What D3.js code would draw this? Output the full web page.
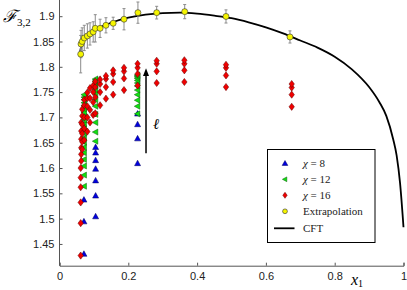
<!DOCTYPE html>
<html>
<head>
<meta charset="utf-8">
<script src="https://cdn.jsdelivr.net/npm/d3@7"></script>
<style>
  body { margin: 0; background: #fff; }
  svg text { font-family: "Liberation Sans", Arial, sans-serif; }
  .serif { font-family: "Liberation Serif", "DejaVu Serif", serif; }
</style>
</head>
<body>
<div id="chart"></div>
<script>
// Data
const xTicks = [0, 0.2, 0.4, 0.6, 0.8, 1];
const yTicks = [1.45, 1.5, 1.55, 1.6, 1.65, 1.7, 1.75, 1.8, 1.85, 1.9];

// chi = 8 (blue)
const chi8X = [0.071, 0.071, 0.071,
  0.105, 0.105, 0.105, 0.105, 0.105, 0.105, 0.105,
  0.227, 0.227, 0.227, 0.227];
const chi8Y = [1.430, 1.494, 1.537,
  1.504, 1.545, 1.575, 1.598, 1.615, 1.630, 1.641,
  1.609, 1.658, 1.686, 1.707];

// chi = 12 (green)
const chi12Cols = [0.072, 0.105, 0.227];
const chi12Vals = [
  [1.564, 1.586, 1.604, 1.617, 1.630, 1.641, 1.651, 1.660, 1.669, 1.678, 1.687, 1.695, 1.703, 1.710, 1.717, 1.723, 1.729, 1.735, 1.740, 1.745],
  [1.653, 1.671, 1.690, 1.706, 1.722, 1.735, 1.747, 1.755, 1.762, 1.767, 1.771, 1.774, 1.776],
  [1.707, 1.722, 1.734, 1.745, 1.754, 1.762, 1.768, 1.773, 1.777, 1.780, 1.782, 1.784]
];

// chi = 16 (red)
const chi16Cols = [0.0616, 0.063, 0.066, 0.072, 0.081, 0.0887, 0.098, 0.104, 0.118, 0.135, 0.156, 0.1875, 0.227, 0.2825, 0.363, 0.484, 0.675];
const chi16Vals = [
  [1.427, 1.491, 1.532, 1.562, 1.581, 1.600],
  [1.614, 1.627, 1.640, 1.657, 1.673, 1.690],
  [1.637, 1.652, 1.668, 1.686, 1.703, 1.716],
  [1.655, 1.678, 1.700, 1.724, 1.735],
  [1.672, 1.700, 1.722, 1.738, 1.749],
  [1.690, 1.715, 1.738, 1.758],
  [1.705, 1.730, 1.750, 1.763],
  [1.708, 1.740, 1.760, 1.771],
  [1.724, 1.750, 1.766, 1.775],
  [1.737, 1.760, 1.776, 1.782],
  [1.745, 1.770, 1.786, 1.793],
  [1.754, 1.777, 1.791, 1.798],
  [1.763, 1.786, 1.798, 1.806],
  [1.768, 1.791, 1.806, 1.812],
  [1.770, 1.793, 1.806, 1.813],
  [1.760, 1.783, 1.798, 1.804],
  [1.721, 1.745, 1.759, 1.766]
];

// extrapolation (yellow) with error bars
const extX = [0.0616, 0.0625, 0.066, 0.072, 0.081, 0.0887, 0.098, 0.104, 0.118, 0.135, 0.156, 0.1875, 0.228, 0.2825, 0.364, 0.484, 0.670];
const extY = [1.825, 1.845, 1.850, 1.857, 1.861, 1.865, 1.869, 1.876, 1.876, 1.882, 1.886, 1.894, 1.907, 1.907, 1.909, 1.8995, 1.859];
const extErr = [0.037, 0.027, 0.027, 0.025, 0.024, 0.022, 0.020, 0.027, 0.018, 0.015, 0.012, 0.021, 0.021, 0.0125, 0.014, 0.013, 0.012];

// CFT curve
const cftX = [0.06, 0.065, 0.07, 0.08, 0.09, 0.1, 0.12, 0.15, 0.2, 0.25, 0.3, 0.35, 0.4, 0.45, 0.5, 0.55, 0.6, 0.65, 0.7, 0.75, 0.8, 0.85, 0.9, 0.93, 0.95, 0.97, 0.98, 0.99, 1.0];
const cftY = [1.830, 1.846, 1.853, 1.861, 1.867, 1.872, 1.879, 1.887, 1.897, 1.903, 1.906, 1.907, 1.905, 1.901, 1.896, 1.888, 1.878, 1.866, 1.852, 1.838, 1.820, 1.795, 1.760, 1.730, 1.703, 1.657, 1.625, 1.570, 1.483];

const W = 407, H = 290;
const svg = d3.select("#chart").append("svg")
  .attr("width", W).attr("height", H);

const x = d3.scaleLinear().domain([0, 1]).range([59.5, 403.5]);
const y = d3.scaleLinear().domain([1.407, 1.932]).range([265.7, 0]);

// axes (ticks inward)
const xAxis = svg.append("g")
  .attr("transform", `translate(0,${y(1.407)})`)
  .call(d3.axisBottom(x).tickValues(xTicks).tickSize(-3).tickPadding(7)
    .tickFormat(d => d === 0 ? "0" : d === 1 ? "1" : d3.format(".1f")(d)));
const yAxis = svg.append("g")
  .attr("transform", `translate(${x(0)},0)`)
  .call(d3.axisLeft(y).tickValues(yTicks).tickSize(-3).tickPadding(5)
    .tickFormat(d => d3.format("")(+d.toFixed(2))));
[xAxis, yAxis].forEach(g => {
  g.select(".domain").attr("stroke", "#555");
  g.selectAll(".tick line").attr("stroke", "#555");
  g.selectAll(".tick text").attr("font-size", 11).attr("fill", "#222");
});
yAxis.select(".domain").attr("d", `M-0,${y(1.407)}V0`);

// marker shapes
const tri = "M0,-3.3L3,2.2L-3,2.2Z";
const triLeft = "M-3.3,0L2.2,-3L2.2,3Z";
const diamond = "M0,-3.6L2.7,0L0,3.6L-2.7,0Z";

// chi = 8
svg.append("g").selectAll("path").data(chi8X)
  .join("path")
  .attr("d", tri)
  .attr("transform", (d, i) => `translate(${x(d)},${y(chi8Y[i])})`)
  .attr("fill", "#0000e0").attr("stroke", "#00005a").attr("stroke-width", 0.5);

// chi = 12
const g12 = [];
chi12Cols.forEach((c, i) => chi12Vals[i].forEach(v => g12.push([c, v])));
svg.append("g").selectAll("path").data(g12)
  .join("path")
  .attr("d", triLeft)
  .attr("transform", d => `translate(${x(d[0])},${y(d[1])})`)
  .attr("fill", "#10e010").attr("stroke", "#0a5a0a").attr("stroke-width", 0.5);

// chi = 16
const g16 = [];
chi16Cols.forEach((c, i) => chi16Vals[i].forEach(v => g16.push([c, v])));
svg.append("g").selectAll("path").data(g16)
  .join("path")
  .attr("d", diamond)
  .attr("transform", d => `translate(${x(d[0])},${y(d[1])})`)
  .attr("fill", "#f00000").attr("stroke", "#600000").attr("stroke-width", 0.5);

// CFT line
svg.append("path")
  .datum(cftX.map((d, i) => [d, cftY[i]]))
  .attr("fill", "none").attr("stroke", "#000").attr("stroke-width", 1.8)
  .attr("d", d3.line().x(d => x(d[0])).y(d => y(d[1])).curve(d3.curveMonotoneX));

// error bars
const eb = svg.append("g").attr("stroke", "#8c8c8c").attr("stroke-width", 1);
extX.forEach((d, i) => {
  const cx = x(d), top = y(extY[i] + extErr[i]), bot = y(extY[i] - extErr[i]);
  eb.append("line").attr("x1", cx).attr("x2", cx).attr("y1", top).attr("y2", bot);
  eb.append("line").attr("x1", cx - 1.5).attr("x2", cx + 1.5).attr("y1", top).attr("y2", top);
  eb.append("line").attr("x1", cx - 1.5).attr("x2", cx + 1.5).attr("y1", bot).attr("y2", bot);
});

// extrapolation points
svg.append("g").selectAll("circle").data(extX)
  .join("circle")
  .attr("cx", d => x(d)).attr("cy", (d, i) => y(extY[i])).attr("r", 3)
  .attr("fill", "#f5f500").attr("stroke", "#333").attr("stroke-width", 0.6);

// arrow for l
const ax = x(0.2515);
svg.append("line").attr("x1", ax).attr("x2", ax)
  .attr("y1", y(1.629)).attr("y2", y(1.790))
  .attr("stroke", "#000").attr("stroke-width", 1.5);
svg.append("path")
  .attr("d", `M${ax},${y(1.797)}L${ax + 3},${y(1.782)}L${ax - 3},${y(1.782)}Z`)
  .attr("fill", "#000");
svg.append("text").attr("class", "serif")
  .attr("x", ax + 7).attr("y", y(1.678))
  .attr("font-size", 15).attr("font-style", "italic").text("ℓ");

// axis labels
const yl = svg.append("text").attr("class", "serif").attr("x", 3).attr("y", 22);
yl.append("tspan").attr("font-size", 17).attr("font-style", "italic").text("ℱ");
yl.append("tspan").attr("font-size", 11).attr("dy", 4).text("3,2");

const xl = svg.append("text").attr("class", "serif").attr("x", 351).attr("y", 285);
xl.append("tspan").attr("font-size", 16).attr("font-style", "italic").text("x");
xl.append("tspan").attr("font-size", 10).attr("dy", 2).text("1");

// legend
const lg = svg.append("g");
lg.append("rect").attr("x", 267.5).attr("y", 149.5).attr("width", 107.5).attr("height", 93)
  .attr("fill", "#fff").attr("stroke", "#000").attr("stroke-width", 1);
const rows = [163.3, 179.3, 195.3, 211.3, 228.3];
const mx = 285;
lg.append("path").attr("d", d3.symbol(d3.symbolTriangle, 14)())
  .attr("transform", `translate(${mx},${rows[0] + 0.5})`)
  .attr("fill", "#0000e0").attr("stroke", "#00005a").attr("stroke-width", 0.5);
lg.append("path").attr("d", "M-2.6,0L1.8,-2.4L1.8,2.4Z")
  .attr("transform", `translate(${mx},${rows[1]})`)
  .attr("fill", "#10e010").attr("stroke", "#0a5a0a").attr("stroke-width", 0.5);
lg.append("path").attr("d", "M0,-3L2.2,0L0,3L-2.2,0Z")
  .attr("transform", `translate(${mx},${rows[2]})`)
  .attr("fill", "#f00000").attr("stroke", "#600000").attr("stroke-width", 0.5);
lg.append("circle").attr("cx", mx).attr("cy", rows[3]).attr("r", 2.4)
  .attr("fill", "#f5f500").attr("stroke", "#333").attr("stroke-width", 0.6);
lg.append("line").attr("x1", 274).attr("x2", 294.5).attr("y1", rows[4]).attr("y2", rows[4])
  .attr("stroke", "#000").attr("stroke-width", 1.8);

const labels = [["χ", " = 8"], ["χ", " = 12"], ["χ", " = 16"], ["", "Extrapolation"], ["", "CFT"]];
labels.forEach((l, i) => {
  const t = lg.append("text").attr("class", "serif").attr("x", 303).attr("y", rows[i] + 4)
    .attr("font-size", 11).attr("fill", "#222");
  if (l[0]) t.append("tspan").attr("font-style", "italic").text(l[0]);
  t.append("tspan").text(l[1]);
});
</script>
</body>
</html>
